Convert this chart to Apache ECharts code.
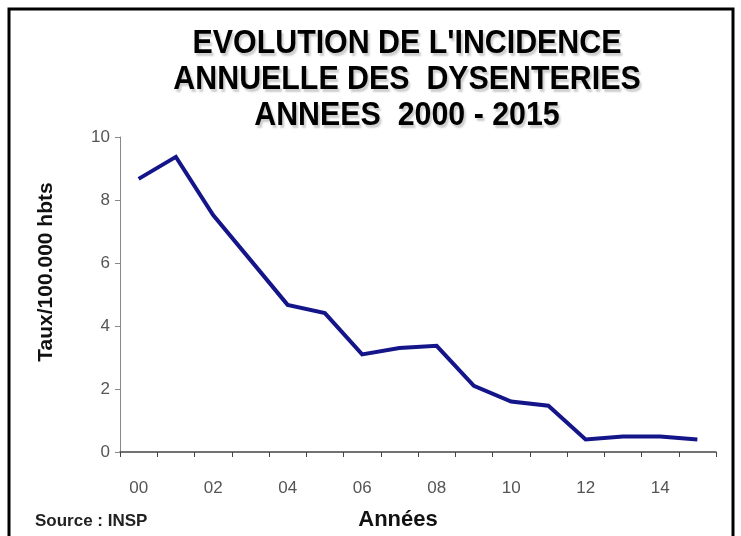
<!DOCTYPE html>
<html>
<head>
<meta charset="utf-8">
<script src="https://cdn.jsdelivr.net/npm/echarts@6/dist/echarts.min.js"></script>
<style>
  html, body { margin: 0; padding: 0; background: #fff; }
  #chart { width: 741px; height: 536px; }
</style>
</head>
<body>
<div id="chart"></div>
<script>
const years = ['00', '01', '02', '03', '04', '05', '06', '07', '08', '09', '10', '11', '12', '13', '14', '15']
const taux = [8.67, 9.37, 7.52, 6.1, 4.67, 4.41, 3.1, 3.3, 3.37, 2.1, 1.6, 1.47, 0.4, 0.49, 0.49, 0.4]
const titleLines = ["EVOLUTION DE L'INCIDENCE", 'ANNUELLE DES  DYSENTERIES', 'ANNEES  2000 - 2015']

const sans = '"Liberation Sans", Arial, sans-serif'

const chart = echarts.init(document.getElementById('chart'))

chart.setOption({
  backgroundColor: '#fff',
  animation: false,
  grid: { left: 120, right: 25, top: 137, bottom: 84 },
  graphic: [
    {
      type: 'rect',
      shape: { x: 9, y: 9, width: 724, height: 560 },
      style: { fill: 'none', stroke: '#000', lineWidth: 3 }
    },
    {
      // title, squeezed a bit to look like the narrow font of the original
      type: 'text',
      x: 407, y: 80,
      scaleX: 0.92,
      style: {
        text: titleLines.join('\n'),
        font: 'bold 33px ' + sans,
        lineHeight: 36,
        fill: '#000',
        align: 'center',
        verticalAlign: 'middle',
        textShadowColor: 'rgba(0,0,0,0.2)',
        textShadowOffsetX: 2,
        textShadowOffsetY: 3,
        textShadowBlur: 2
      }
    },
    {
      type: 'text',
      x: 46, y: 272,
      rotation: Math.PI / 2,
      style: {
        text: 'Taux/100.000 hbts',
        font: 'bold 21px ' + sans,
        fill: '#111',
        align: 'center',
        verticalAlign: 'middle'
      }
    },
    {
      type: 'text',
      x: 398, y: 520,
      style: {
        text: 'Années',
        font: 'bold 22px ' + sans,
        fill: '#111',
        align: 'center',
        verticalAlign: 'middle'
      }
    },
    {
      type: 'text',
      x: 35, y: 521,
      style: {
        text: 'Source : INSP',
        font: 'bold 17px ' + sans,
        fill: '#222',
        align: 'left',
        verticalAlign: 'middle'
      }
    }
  ],
  xAxis: {
    type: 'category',
    data: years,
    boundaryGap: true,
    axisLine: { lineStyle: { color: '#444', width: 1.5 } },
    axisTick: { show: true, interval: 0, length: 5, lineStyle: { color: '#444' } },
    axisLabel: {
      interval: 1,
      margin: 28,
      fontSize: 17,
      color: '#555',
      fontFamily: sans
    },
    splitLine: { show: false }
  },
  yAxis: {
    type: 'value',
    min: 0,
    max: 10,
    interval: 2,
    axisLine: { show: true, lineStyle: { color: '#888', width: 1 } },
    axisTick: { show: true, length: 5, lineStyle: { color: '#888' } },
    axisLabel: {
      margin: 10,
      fontSize: 17,
      color: '#555',
      fontFamily: sans
    },
    splitLine: { show: false }
  },
  series: [
    {
      type: 'line',
      data: taux,
      symbol: 'none',
      lineStyle: { color: '#15158a', width: 4, join: 'miter' }
    }
  ]
})
</script>
</body>
</html>
